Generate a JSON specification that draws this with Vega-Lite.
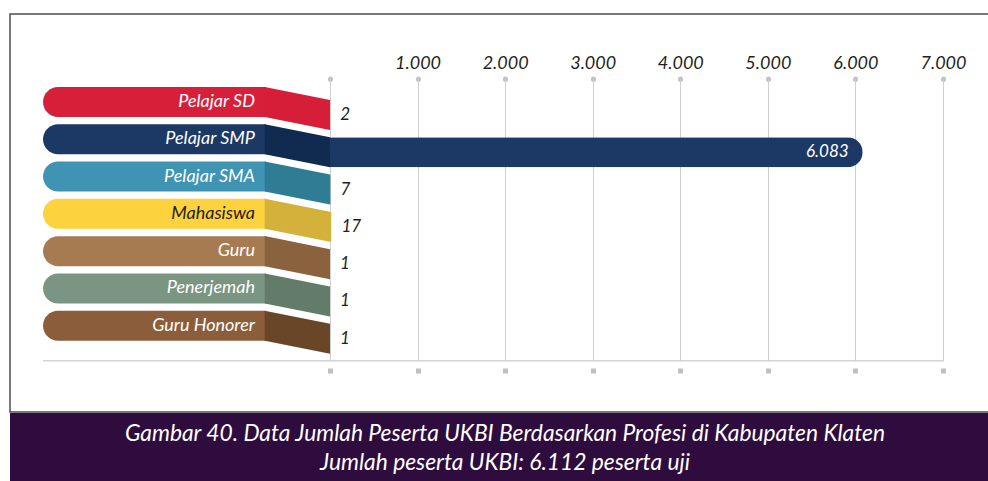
{
  "$schema": "https://vega.github.io/schema/vega-lite/v6.json",
  "padding": {"left": 9, "top": 13, "right": 0, "bottom": 0},
  "spacing": 0,
  "config": {
    "font": "Lato",
    "locale": {"number": {"decimal": ",", "thousands": ".", "grouping": [3], "currency": ["Rp", ""]}},
    "view": {"stroke": null}
  },
  "datasets": {
    "profesi": [
      {"cat": "Pelajar SD", "value": 2},
      {"cat": "Pelajar SMP", "value": 6083},
      {"cat": "Pelajar SMA", "value": 7},
      {"cat": "Mahasiswa", "value": 17},
      {"cat": "Guru", "value": 1},
      {"cat": "Penerjemah", "value": 1},
      {"cat": "Guru Honorer", "value": 1}
    ]
  },
  "vconcat": [
    {
      "width": 990,
      "height": 398,
      "view": {"stroke": "#4d4d4d", "strokeWidth": 1.5},
      "data": {"name": "profesi"},
      "resolve": {"scale": {"color": "independent"}, "axis": {"x": "independent"}},
      "layer": [
        {
          "data": {"values": [{}]},
          "mark": {"type": "rule", "yOffset": 35, "color": "#d4d4d4", "strokeWidth": 1.5},
          "encoding": {
            "x": {"datum": -3277, "type": "quantitative", "scale": {"domain": [-3654, 7651], "nice": false, "zero": false}, "axis": null},
            "x2": {"datum": 7000},
            "y": {"datum": "Guru Honorer", "type": "nominal", "axis": null,
              "scale": {"domain": ["Pelajar SD", "Pelajar SMP", "Pelajar SMA", "Mahasiswa", "Guru", "Penerjemah", "Guru Honorer"], "range": [73, 326.7], "paddingInner": 0.195, "paddingOuter": 0}}
          }
        },
        {
          "mark": {"type": "bar", "cornerRadiusTopLeft": 15, "cornerRadiusBottomLeft": 15},
          "encoding": {
            "x": {"datum": -3277, "type": "quantitative", "scale": {"domain": [-3654, 7651], "nice": false, "zero": false}, "axis": null},
            "x2": {"datum": -731},
            "y": {"field": "cat", "type": "nominal", "axis": null,
              "scale": {"domain": ["Pelajar SD", "Pelajar SMP", "Pelajar SMA", "Mahasiswa", "Guru", "Penerjemah", "Guru Honorer"], "range": [73, 326.7], "paddingInner": 0.195, "paddingOuter": 0}},
            "color": {"field": "cat", "type": "nominal", "legend": null,
              "scale": {"domain": ["Pelajar SD", "Pelajar SMP", "Pelajar SMA", "Mahasiswa", "Guru", "Penerjemah", "Guru Honorer"], "range": ["#d71f3a", "#1c3966", "#3f94b4", "#fdd23f", "#a77b52", "#7a9581", "#8b5d3a"]}}
          }
        },
        {
          "mark": {"type": "point", "shape": "M-1.04,-0.469L1,-0.0625L1,0.875L-1.04,0.469Z", "size": 4096, "filled": true, "opacity": 1, "strokeWidth": 0},
          "encoding": {
            "x": {"datum": -365.4, "type": "quantitative", "scale": {"domain": [-3654, 7651], "nice": false, "zero": false}, "axis": null},
            "y": {"field": "cat", "type": "nominal", "axis": null,
              "scale": {"domain": ["Pelajar SD", "Pelajar SMP", "Pelajar SMA", "Mahasiswa", "Guru", "Penerjemah", "Guru Honorer"], "range": [73, 326.7], "paddingInner": 0.195, "paddingOuter": 0}},
            "color": {"field": "cat", "type": "nominal", "legend": null,
              "scale": {"domain": ["Pelajar SD", "Pelajar SMP", "Pelajar SMA", "Mahasiswa", "Guru", "Penerjemah", "Guru Honorer"], "range": ["#d61e39", "#112a4f", "#2f7d95", "#d4b13a", "#8a623d", "#637b69", "#6a4628"]}}
          }
        },
        {
          "mark": {"type": "text", "align": "right", "baseline": "middle", "dx": -11, "fontSize": 18, "fontStyle": "italic"},
          "encoding": {
            "x": {"datum": -731, "type": "quantitative", "scale": {"domain": [-3654, 7651], "nice": false, "zero": false}, "axis": null},
            "y": {"field": "cat", "type": "nominal", "axis": null,
              "scale": {"domain": ["Pelajar SD", "Pelajar SMP", "Pelajar SMA", "Mahasiswa", "Guru", "Penerjemah", "Guru Honorer"], "range": [73, 326.7], "paddingInner": 0.195, "paddingOuter": 0}},
            "text": {"field": "cat", "type": "nominal"},
            "color": {"condition": {"test": "datum.cat === 'Mahasiswa'", "value": "#231f20"}, "value": "#ffffff"}
          }
        },
        {
          "mark": {"type": "bar", "yOffset": 13, "cornerRadiusEnd": 15},
          "encoding": {
            "x": {"field": "value", "type": "quantitative", "scale": {"domain": [-3654, 7651], "nice": false, "zero": false},
              "axis": {"orient": "top", "values": [0, 1000, 2000, 3000, 4000, 5000, 6000, 7000], "format": ",d",
                "labelExpr": "datum.value === 0 ? '' : datum.label", "offset": -65, "domain": false, "grid": false,
                "ticks": true, "tickSize": 0.5, "tickWidth": 5, "tickCap": "round", "tickColor": "#c2c2c8",
                "labelFontSize": 18, "labelFontStyle": "italic", "labelColor": "#231f20", "labelPadding": 6,
                "labelFlush": false, "labelOverlap": false, "labelBound": false, "title": null}},
            "y": {"field": "cat", "type": "nominal", "axis": null,
              "scale": {"domain": ["Pelajar SD", "Pelajar SMP", "Pelajar SMA", "Mahasiswa", "Guru", "Penerjemah", "Guru Honorer"], "range": [73, 326.7], "paddingInner": 0.195, "paddingOuter": 0}},
            "color": {"field": "cat", "type": "nominal", "legend": null,
              "scale": {"domain": ["Pelajar SD", "Pelajar SMP", "Pelajar SMA", "Mahasiswa", "Guru", "Penerjemah", "Guru Honorer"], "range": ["#d61e39", "#1c3966", "#2f7d95", "#d4b13a", "#8a623d", "#637b69", "#6a4628"]}}
          }
        },
        {
          "transform": [{"filter": "datum.value < 1000"}],
          "mark": {"type": "text", "align": "left", "baseline": "middle", "dx": 10, "yOffset": 13, "fontSize": 17, "fontStyle": "italic", "color": "#231f20"},
          "encoding": {
            "x": {"field": "value", "type": "quantitative", "scale": {"domain": [-3654, 7651], "nice": false, "zero": false},
              "axis": {"orient": "bottom", "values": [0, 1000, 2000, 3000, 4000, 5000, 6000, 7000], "offset": -51, "domain": false,
                "labels": false, "grid": false, "tickSize": -282, "tickWidth": 1, "tickColor": "#cfcfcf", "title": null}},
            "y": {"field": "cat", "type": "nominal", "axis": null,
              "scale": {"domain": ["Pelajar SD", "Pelajar SMP", "Pelajar SMA", "Mahasiswa", "Guru", "Penerjemah", "Guru Honorer"], "range": [73, 326.7], "paddingInner": 0.195, "paddingOuter": 0}},
            "text": {"field": "value", "type": "quantitative", "format": ",d"}
          }
        },
        {
          "transform": [{"filter": "datum.value >= 1000"}],
          "mark": {"type": "text", "align": "right", "baseline": "middle", "dx": -14, "yOffset": 13, "fontSize": 17, "fontStyle": "italic", "color": "#ffffff"},
          "encoding": {
            "x": {"field": "value", "type": "quantitative", "scale": {"domain": [-3654, 7651], "nice": false, "zero": false},
              "axis": {"orient": "bottom", "values": [0, 1000, 2000, 3000, 4000, 5000, 6000, 7000], "offset": -44, "domain": false,
                "labels": false, "grid": false, "tickSize": 5, "tickWidth": 5, "tickCap": "butt", "tickColor": "#bfbfc4", "title": null}},
            "y": {"field": "cat", "type": "nominal", "axis": null,
              "scale": {"domain": ["Pelajar SD", "Pelajar SMP", "Pelajar SMA", "Mahasiswa", "Guru", "Penerjemah", "Guru Honorer"], "range": [73, 326.7], "paddingInner": 0.195, "paddingOuter": 0}},
            "text": {"field": "value", "type": "quantitative", "format": ",d"}
          }
        }
      ]
    },
    {
      "width": 990,
      "height": 70,
      "view": {"fill": "#2e0c3e", "stroke": null},
      "data": {"values": [{}]},
      "mark": {"type": "text", "text": ["Gambar 40. Data Jumlah Peserta UKBI Berdasarkan Profesi di Kabupaten Klaten", "Jumlah peserta UKBI: 6.112 peserta uji"],
        "color": "#ffffff", "fontSize": 22.8, "fontStyle": "italic", "lineHeight": 29, "baseline": "middle", "align": "center", "dy": -14.5},
      "encoding": {}
    }
  ]
}
